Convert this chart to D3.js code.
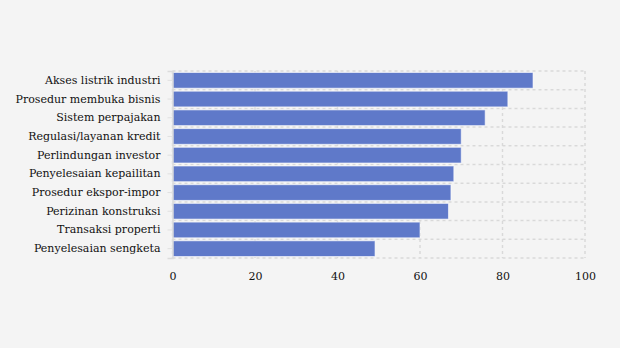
<!DOCTYPE html>
<html>
<head>
<meta charset="utf-8">
<script src="https://cdn.jsdelivr.net/npm/d3@7"></script>
<style>
  html, body { margin: 0; padding: 0; background: #f4f4f4; }
  svg { display: block; }
</style>
</head>
<body>
<svg id="chart" width="620" height="348"></svg>
<script>
// Indicator categories (top to bottom)
const categories = [
  "Akses listrik industri",
  "Prosedur membuka bisnis",
  "Sistem perpajakan",
  "Regulasi/layanan kredit",
  "Perlindungan investor",
  "Penyelesaian kepailitan",
  "Prosedur ekspor-impor",
  "Perizinan konstruksi",
  "Transaksi properti",
  "Penyelesaian sengketa"
];
// Scores per indicator
const values = [87.4, 81.3, 75.8, 70.0, 70.0, 68.2, 67.5, 66.9, 60.0, 49.1];
// X-axis tick values
const xTicks = [0, 20, 40, 60, 80, 100];

const svg = d3.select("#chart");
const margin = { top: 71, right: 35, bottom: 90, left: 172.5 };
const width = 620 - margin.left - margin.right;
const height = 348 - margin.top - margin.bottom;

const g = svg.append("g").attr("transform", `translate(${margin.left},${margin.top})`);

const x = d3.scaleLinear().domain([0, 100]).range([0, width]);
const y = d3.scaleBand().domain(categories).range([0, height]).paddingInner(0.16).paddingOuter(0.08);

const gridColor = "#d9d9d9";

// Vertical grid lines
g.append("g").selectAll("line").data(xTicks).join("line")
  .attr("x1", d => x(d)).attr("x2", d => x(d))
  .attr("y1", 0).attr("y2", height)
  .attr("stroke", gridColor).attr("stroke-width", 1.5)
  .attr("stroke-dasharray", "3,3");

// Horizontal grid lines at band boundaries
const step = height / categories.length;
const hLines = d3.range(categories.length + 1).map(i => i * step);
g.append("g").selectAll("line").data(hLines).join("line")
  .attr("x1", 0).attr("x2", width)
  .attr("y1", d => d).attr("y2", d => d)
  .attr("stroke", gridColor).attr("stroke-width", 1.5)
  .attr("stroke-dasharray", "3,3");

// Bars
g.append("g").selectAll("rect").data(categories).join("rect")
  .attr("x", x(0))
  .attr("y", d => y(d))
  .attr("width", (d, i) => x(values[i]) - x(0))
  .attr("height", y.bandwidth())
  .attr("fill", "#5f79c9")
  .attr("stroke", "rgba(255,255,255,0.6)")
  .attr("stroke-width", 1);

// Y axis
const yAxis = g.append("g")
  .call(d3.axisLeft(y).tickSize(5).tickPadding(7));
yAxis.select(".domain").attr("stroke", "#dcdcdc").attr("stroke-width", 1.5);
yAxis.selectAll(".tick line").attr("stroke", "#e0e0e0");
yAxis.selectAll(".tick text")
  .attr("fill", "#111")
  .style("font-family", "'DejaVu Serif', serif")
  .style("font-size", "11px");

// X axis (labels only)
const xAxis = g.append("g")
  .attr("transform", `translate(0,${height})`)
  .call(d3.axisBottom(x).tickValues(xTicks).tickSize(0).tickPadding(14));
xAxis.select(".domain").remove();
xAxis.selectAll(".tick text")
  .attr("fill", "#111")
  .style("font-family", "'DejaVu Serif', serif")
  .style("font-size", "11px");
</script>
</body>
</html>
